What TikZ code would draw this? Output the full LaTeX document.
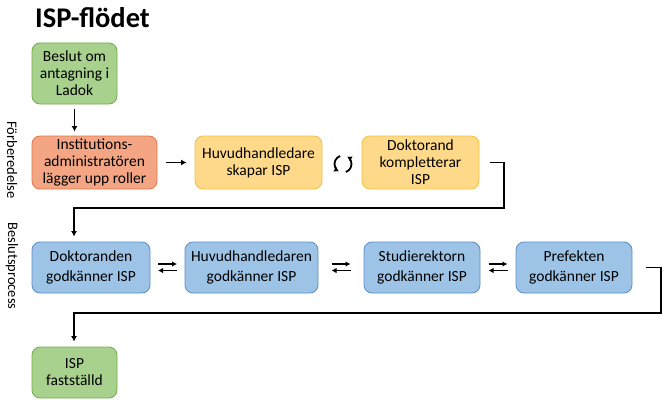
\documentclass[tikz,border=0pt]{standalone}
\usepackage{fontspec}
\setmainfont{Carlito}
\usetikzlibrary{arrows.meta,calc}
\definecolor{gfill}{HTML}{A9D18E}\definecolor{gdraw}{HTML}{70AD47}
\definecolor{ofill}{HTML}{F4A684}\definecolor{odraw}{HTML}{E0764A}
\definecolor{yfill}{HTML}{FFD98A}\definecolor{ydraw}{HTML}{F5C040}
\definecolor{bfill}{HTML}{9DC3E6}\definecolor{bdraw}{HTML}{5B8FC8}
\tikzset{
  box/.style={rounded corners=8pt, line width=0.8pt, align=center, inner sep=2pt,
    font=\fontsize{15.5}{17}\selectfont},
  gbox/.style={box, fill=gfill, draw=gdraw},
  obox/.style={box, fill=ofill, draw=odraw},
  ybox/.style={box, fill=yfill, draw=ydraw},
  bbox/.style={box, fill=bfill, draw=bdraw, font=\fontsize{15.5}{19.5}\selectfont},
  conn/.style={line width=1.8pt, -{Latex[length=5.5pt,width=6pt]}},
  small/.style={line width=1.5pt, -{Latex[length=5pt,width=5.5pt]}},
  cyca/.style={line width=1.8pt, -{Latex[length=4.5pt,width=6pt]}},
  side/.style={font=\fontsize{14.5}{16}\selectfont, rotate=-90}
}
\begin{document}
\begin{tikzpicture}[x=1pt,y=-1pt]
\useasboundingbox (0,0) rectangle (669,404);
\node[font=\fontsize{28.5}{32}\selectfont\bfseries, anchor=west, inner sep=0pt] (title) at (35,18) {ISP-flödet};
\node[side] (forb) at (12,160) {Förberedelse};
\node[side] (besl) at (12,266) {Beslutsprocess};

\node[gbox, minimum width=85pt, minimum height=61pt] (beslut) at (74.5,73.5) {Beslut om\\antagning i\\Ladok};
\node[obox, minimum width=125pt, minimum height=53pt] (inst) at (94.5,162.5) {Institutions-\\administratören\\lägger upp roller};
\node[ybox, minimum width=127pt, minimum height=53pt] (skapar) at (258.5,162.5) {Huvudhandledare\\skapar ISP};
\node[ybox, minimum width=117pt, minimum height=53pt] (kompl) at (420.5,162.5) {Doktorand\\kompletterar\\ISP};

\node[bbox, minimum width=118pt, minimum height=51pt] (dok) at (91,267.5) {Doktoranden\\godkänner ISP};
\node[bbox, minimum width=133pt, minimum height=51pt] (hh) at (251.5,267.5) {Huvudhandledaren\\godkänner ISP};
\node[bbox, minimum width=116pt, minimum height=51pt] (sr) at (422,267.5) {Studierektorn\\godkänner ISP};
\node[bbox, minimum width=116pt, minimum height=51pt] (pref) at (574,267.5) {Prefekten\\godkänner ISP};

\node[gbox, minimum width=85pt, minimum height=51pt] (fast) at (74.5,372.5) {ISP\\fastställd};

% arrows
\draw[conn] ($(beslut.south)+(0,5)$) -- ($(inst.north -| beslut.south)+(0,-4)$);
\draw[conn] ($(inst.east)+(9,0)$) -- ($(skapar.west)+(-8,0)$);

% cycle icon
\coordinate (cyc) at (343,164);
\draw[cyca] ($(cyc)+(-110:8.5)$) arc[start angle=-110, end angle=-240, radius=8.5];
\draw[cyca] ($(cyc)+(70:8.5)$) arc[start angle=70, end angle=-60, radius=8.5];

\coordinate (k1) at ($(kompl.east)+(11,0)$);
\coordinate (k2) at (504,162.5);
\coordinate (k3) at (504,208);
\coordinate (k4) at (74,208);
\draw[conn] (k1) -- (k2) -- (k3) -- (k4) -- ($(dok.north -| k4)+(0,-5)$);

% double arrows
\foreach \a/\b in {dok/hh, hh/sr, sr/pref}{
  \coordinate (m) at ($(\a.east)!0.5!(\b.west)$);
  \draw[small] ($(m)+(-9.5,-3.5)$) -- ($(m)+(9.5,-3.5)$);
  \draw[small] ($(m)+(9.5,3)$) -- ($(m)+(-9.5,3)$);
}

\coordinate (p1) at ($(pref.east)+(14,0)$);
\coordinate (p2) at (661,267.5);
\coordinate (p3) at (661,313);
\coordinate (p4) at (74,313);
\draw[conn] (p1) -- (p2) -- (p3) -- (p4) -- ($(fast.north -| p4)+(0,-5)$);
\end{tikzpicture}
\end{document}
